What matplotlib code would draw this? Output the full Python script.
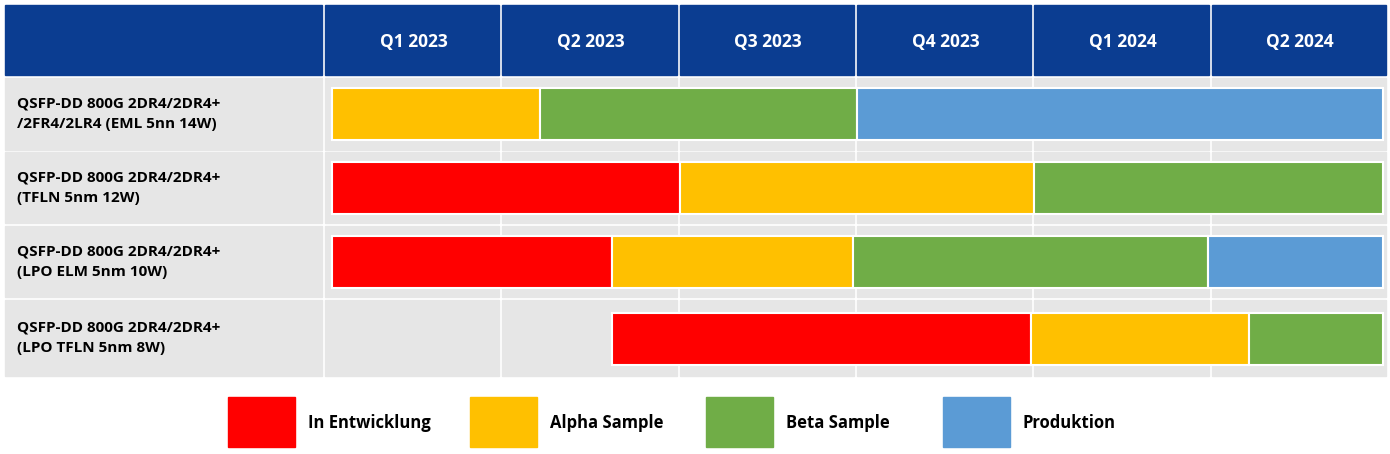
import matplotlib.pyplot as plt
from matplotlib.patches import Rectangle

quarters = ["Q1 2023", "Q2 2023", "Q3 2023", "Q4 2023", "Q1 2024", "Q2 2024"]
products = ["QSFP-DD 800G 2DR4/2DR4+\n/2FR4/2LR4 (EML 5nn 14W)",
            "QSFP-DD 800G 2DR4/2DR4+\n(TFLN 5nm 12W)",
            "QSFP-DD 800G 2DR4/2DR4+\n(LPO ELM 5nm 10W)",
            "QSFP-DD 800G 2DR4/2DR4+\n(LPO TFLN 5nm 8W)"]
# phase boundaries in quarters, one list per product; phases listed per segment
bounds = [[0.04, 1.21, 3.0, 5.97],
          [0.04, 2.0, 4.0, 5.97],
          [0.04, 1.62, 2.98, 4.98, 5.97],
          [1.62, 3.98, 5.21, 5.97]]
phases = [["Alpha Sample", "Beta Sample", "Produktion"],
          ["In Entwicklung", "Alpha Sample", "Beta Sample"],
          ["In Entwicklung", "Alpha Sample", "Beta Sample", "Produktion"],
          ["In Entwicklung", "Alpha Sample", "Beta Sample"]]
legend_names = ["In Entwicklung", "Alpha Sample", "Beta Sample", "Produktion"]
colors = {"In Entwicklung": "#FF0000", "Alpha Sample": "#FFC000",
          "Beta Sample": "#70AD47", "Produktion": "#5B9BD5"}

plt.rcParams['font.family'] = ['Open Sans', 'DejaVu Sans']
W, H = 1390, 454
fig = plt.figure(figsize=(W / 100, H / 100), dpi=100)
ax = fig.add_axes([0, 0, 1, 1])
ax.set_xlim(0, W)
ax.set_ylim(H, 0)
ax.axis('off')

x0, qw = 325, 177.3
header = "#0B3D91"
grey = "#E6E6E6"
rows_y = [(78, 150), (152, 223), (226, 297), (300, 376)]

# header
ax.add_patch(Rectangle((5, 5), 317, 70, color=header))
for i, q in enumerate(quarters):
    ax.add_patch(Rectangle((x0 + i * qw, 5), qw - 3, 70, color=header))
    ax.text(x0 + i * qw + qw / 2, 42, q, color="white", fontsize=12.5,
            fontweight="bold", ha="center", va="center")

# grid body
for (y1, y2), name in zip(rows_y, products):
    ax.add_patch(Rectangle((5, y1), 317, y2 - y1, color=grey))
    ax.text(17, (y1 + y2) / 2, name, fontsize=11, fontweight="bold",
            ha="left", va="center", linespacing=1.6)
    for i in range(6):
        ax.add_patch(Rectangle((x0 + i * qw, y1), qw - 3, y2 - y1, color=grey))

# bars in quarter units
bx = fig.add_axes([x0 / W, 1 - 376 / H, 6 * qw / W, (376 - 78) / H])
bx.set_xlim(0, 6)
bx.set_ylim(376, 78)
bx.axis('off')
centers = [114, 188, 262, 339]
for c, b, ph in zip(centers, bounds, phases):
    for k, p in enumerate(ph):
        bx.barh(c, b[k + 1] - b[k], left=b[k], height=52, color=colors[p],
                edgecolor="white", linewidth=1.5)

# legend
leg_x = [228, 470, 706, 943]
for lx, n in zip(leg_x, legend_names):
    ax.add_patch(Rectangle((lx, 397), 67, 50, color=colors[n]))
    ax.text(lx + 80, 423, n, fontsize=12, fontweight="bold", ha="left", va="center")

fig.savefig("out.png", dpi=100)
